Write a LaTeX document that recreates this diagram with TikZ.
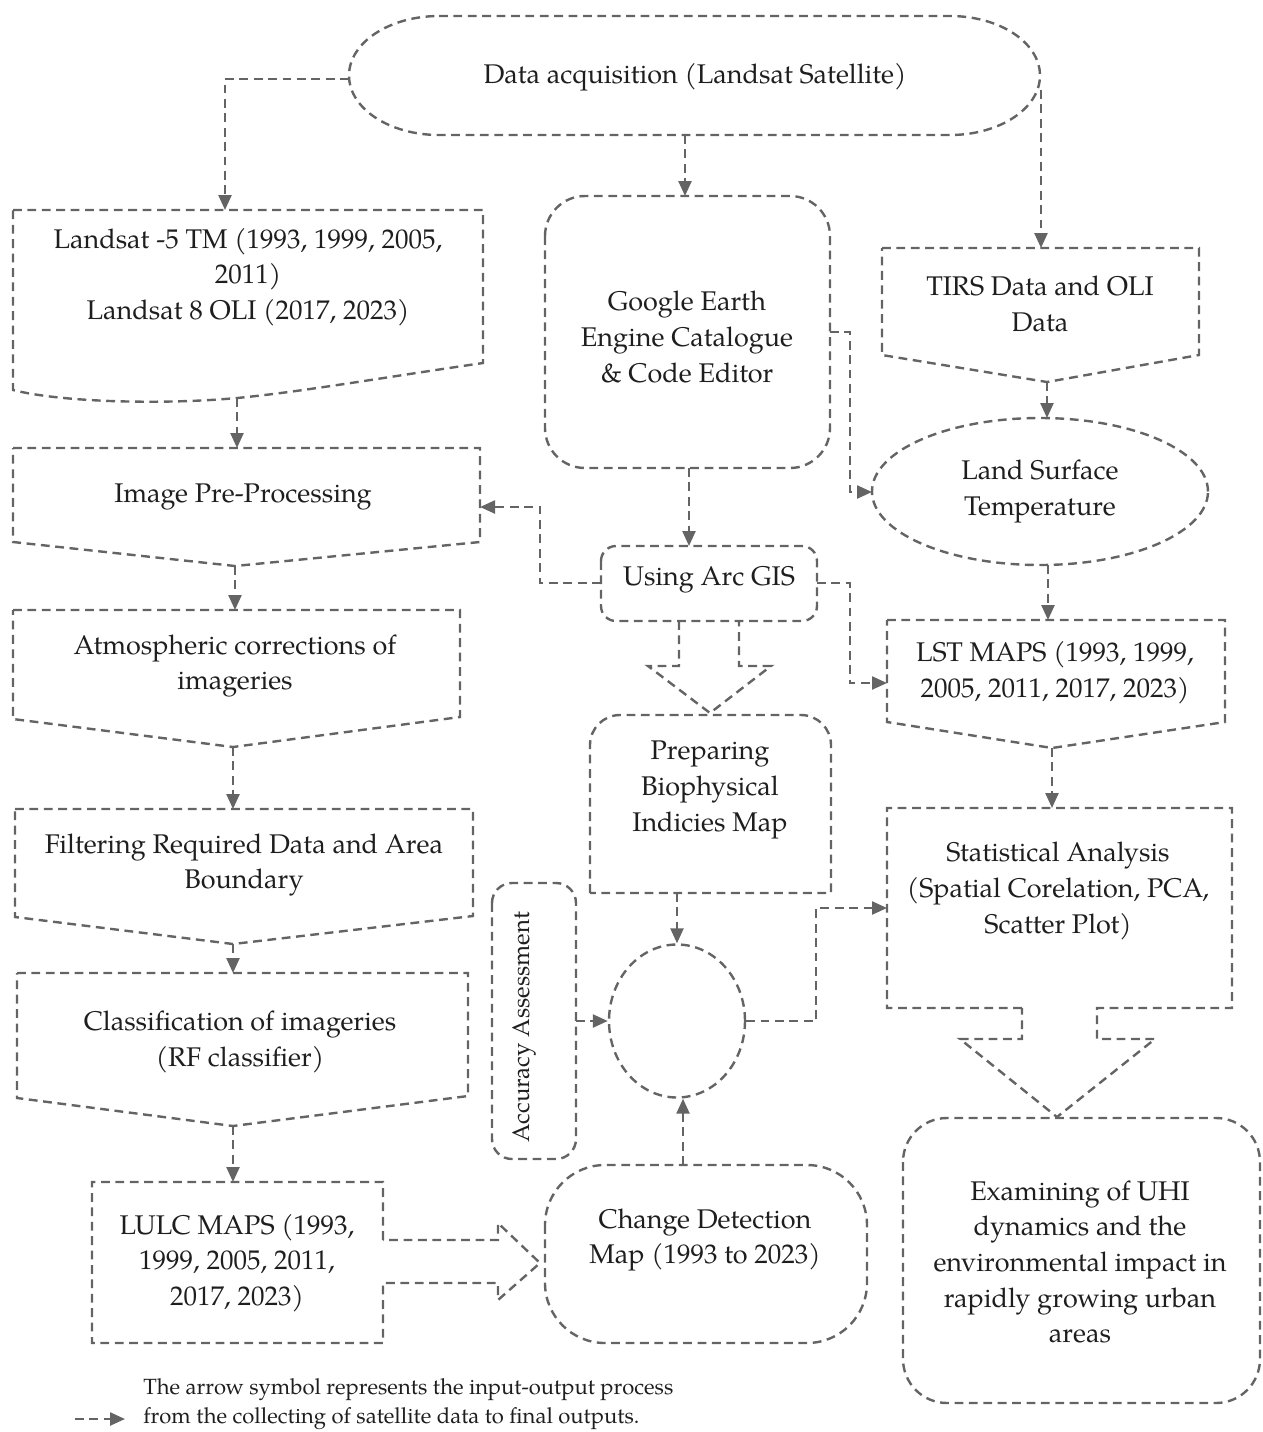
\documentclass[tikz,border=0pt]{standalone}
\usepackage{fontspec}
\setmainfont{TeX Gyre Pagella}
\usetikzlibrary{arrows.meta,shapes.geometric}
\definecolor{lc}{RGB}{100,100,100}
\definecolor{tc}{RGB}{30,30,30}
\newcommand{\mainfs}{\fontsize{13.5}{17.8}\selectfont}
\newcommand{\accfs}{\fontsize{12}{14}\selectfont}
\newcommand{\legfs}{\fontsize{11}{14.5}\selectfont}
\begin{document}
\begin{tikzpicture}[x=0.5pt,y=0.5pt,
  dl/.style={draw=lc,line width=1.2pt,dash pattern=on 4.4pt off 2.8pt},
  arr/.style={dl,-{Triangle[length=7.5pt,width=6.5pt]}},
  txt/.style={align=center,text=tc,font=\mainfs,inner sep=0pt}]
\useasboundingbox (0,0) rectangle (1263,-1432);

% ---------- top stadium
\draw[dl] (439,-16) -- (950,-16) arc[start angle=90,end angle=-90,x radius=45pt,y radius=29.75pt]
  -- (439,-135) arc[start angle=270,end angle=90,x radius=45pt,y radius=29.75pt] -- cycle;
\node[txt] (acq) at (695,-77) {Data acquisition (Landsat Satellite)};
\coordinate (acqW) at (349,-79);
\coordinate (acqS) at (685,-135);
\coordinate (acqE) at (1041,-90);

% ---------- left column
\draw[dl] (13,-210) -- (483,-210) -- (483,-363) .. controls (380,-378) and (300,-392) .. (237,-398)
  .. controls (160,-405) and (60,-402) .. (13,-390) -- cycle;
\node[txt] (ls) at (248,-277) {Landsat -5 TM (1993, 1999, 2005,\\2011)\\Landsat 8 OLI (2017, 2023)};
\coordinate (lsN) at (225,-210);
\coordinate (lsS) at (237,-398);

\draw[dl] (13,-448) -- (480,-448) -- (480,-542) -- (235,-566) -- (13,-542) -- cycle;
\node[txt] (ip) at (243,-497) {Image Pre-Processing};
\coordinate (ipN) at (237,-448);
\coordinate (ipS) at (235,-566);
\coordinate (ipE) at (480,-507);

\draw[dl] (13,-610) -- (460,-610) -- (460,-717) -- (233,-747) -- (13,-719) -- cycle;
\node[txt] (atm) at (235,-666) {Atmospheric corrections of\\imageries};
\coordinate (atmN) at (235,-610);
\coordinate (atmS) at (233,-747);

\draw[dl] (15,-809) -- (473,-809) -- (473,-916) -- (233,-944) -- (15,-917) -- cycle;
\node[txt] (fil) at (244,-865) {Filtering Required Data and Area\\Boundary};
\coordinate (filN) at (233,-809);
\coordinate (filS) at (233,-944);

\draw[dl] (17,-973) -- (468,-973) -- (468,-1096) -- (233,-1126) -- (17,-1098) -- cycle;
\node[txt] (cls) at (240,-1042) {Classification of imageries\\(RF classifier)};
\coordinate (clsN) at (233,-973);
\coordinate (clsS) at (233,-1126);

\draw[dl] (383,-1240) -- (383,-1182) -- (92,-1182) -- (92,-1343) -- (383,-1343) -- (383,-1283)
  -- (498,-1283) -- (498,-1300) -- (540,-1263) -- (498,-1223) -- (498,-1240) -- cycle;
\node[txt] (lu) at (237,-1263) {LULC MAPS (1993,\\1999, 2005, 2011,\\2017, 2023)};
\coordinate (luN) at (233,-1182);

% ---------- middle column
\draw[dl,rounded corners=20pt] (545,-196) rectangle (830,-468);
\node[txt] (gee) at (687,-337) {Google Earth\\Engine Catalogue\\\& Code Editor};
\coordinate (geeN) at (685,-196);
\coordinate (geeS) at (689,-468);
\coordinate (geeE) at (830,-332);

\draw[dl,rounded corners=7.5pt] (601,-546) rectangle (817,-621);
\node[txt] (ag) at (709,-580) {Using Arc GIS};
\coordinate (agN) at (689,-546);
\coordinate (agW) at (601,-583);
\coordinate (agE) at (817,-583);
\draw[dl] (679,-621) -- (679,-666) -- (648,-666) -- (710,-713) -- (771,-666) -- (739,-666) -- (739,-621);

\draw[dl] (590,-893) -- (590,-745) arc[start angle=180,end angle=90,radius=15pt] -- (801,-715)
  arc[start angle=90,end angle=0,radius=15pt] -- (831,-893) -- cycle;
\node[txt] (prep) at (710,-790) {Preparing\\Biophysical\\Indicies Map};
\coordinate (prepS) at (677,-893);

\node[dl,ellipse,minimum width=68pt,minimum height=76.5pt,inner sep=0pt] (circ) at (677,-1021) {};

\draw[dl,rounded corners=10pt] (492,-883) rectangle (576,-1159);
\node[txt,font=\accfs,rotate=90] (acc) at (524,-1027) {Accuracy Assessment};
\coordinate (accE) at (576,-1021);

\draw[dl,rounded corners=30pt] (545,-1165) rectangle (867,-1343);
\node[txt] (cd) at (705,-1240) {Change Detection\\Map (1993 to 2023)};
\coordinate (cdN) at (683,-1165);

% ---------- right column
\draw[dl] (882,-248) -- (1199,-248) -- (1199,-355) -- (1047,-382) -- (882,-355) -- cycle;
\node[txt] (tirs) at (1040,-304) {TIRS Data and OLI\\Data};
\coordinate (tirsN) at (1041,-248);
\coordinate (tirsS) at (1047,-382);

\node[dl,ellipse,minimum width=168pt,minimum height=73.5pt,inner sep=0pt,align=center,text=tc,font=\mainfs] (lst) at (1040,-491.5) {Land Surface\\Temperature};
\coordinate (lstN) at (1047,-418);
\coordinate (lstS) at (1048,-565);
\coordinate (lstW) at (872,-492);

\draw[dl] (887,-620) -- (1225,-620) -- (1225,-722) -- (1052,-748) -- (887,-722) -- cycle;
\node[txt] (lsm) at (1055,-673) {LST MAPS (1993, 1999,\\2005, 2011, 2017, 2023)};
\coordinate (lsmN) at (1048,-620);
\coordinate (lsmS) at (1052,-748);
\coordinate (lsmW) at (887,-683);

\draw[dl] (1022,-1008) -- (887,-1008) -- (887,-808) -- (1232,-808) -- (1232,-1008) -- (1097,-1008)
  -- (1097,-1039) -- (1155,-1039) -- (1057,-1117) -- (960,-1039) -- (1022,-1039) -- cycle;
\node[txt] (stat) at (1058,-891) {Statistical Analysis\\(Spatial Corelation, PCA,\\Scatter Plot)};
\coordinate (statN) at (1052,-808);
\coordinate (statW) at (887,-908);

\draw[dl,rounded corners=22pt] (903,-1118) rectangle (1260,-1403);
\node[txt] (ex) at (1080,-1262) {Examining of UHI\\dynamics and the\\environmental impact in\\rapidly growing urban\\areas};

% ---------- connectors
\draw[arr] (acqW) -| (lsN);
\draw[arr] (acqS) -- (geeN);
\draw[arr] (acqE) -- (tirsN);
\draw[arr] (lsS) -- (ipN);
\draw[arr] (ipS) -- (atmN);
\draw[arr] (atmS) -- (filN);
\draw[arr] (filS) -- (clsN);
\draw[arr] (clsS) -- (luN);
\draw[arr] (geeS) -- (agN);
\draw[arr] (geeE) -- ++(20,0) |- (lstW);
\draw[arr] (agW) -- ++(-61,0) |- (ipE);
\draw[arr] (agE) -- ++(33,0) |- (lsmW);
\draw[arr] (prepS) -- (circ.north);
\draw[arr] (accE) -- (circ.west);
\draw[arr] (cdN) -- (circ.south -| cdN);
\draw[arr] (circ.east) -- ++(70,0) |- (statW);
\draw[arr] (tirsS) -- (lstN);
\draw[arr] (lstS) -- (lsmN);
\draw[arr] (lsmS) -- (statN);

% ---------- legend
\coordinate (lg1) at (75,-1419);
\coordinate (lg2) at (125,-1419);
\draw[arr] (lg1) -- (lg2);
\node[txt,font=\legfs,anchor=west,align=left] (leg) at (143,-1404) {The arrow symbol represents the input-output process\\from the collecting of satellite data to final outputs.};
\end{tikzpicture}
\end{document}
